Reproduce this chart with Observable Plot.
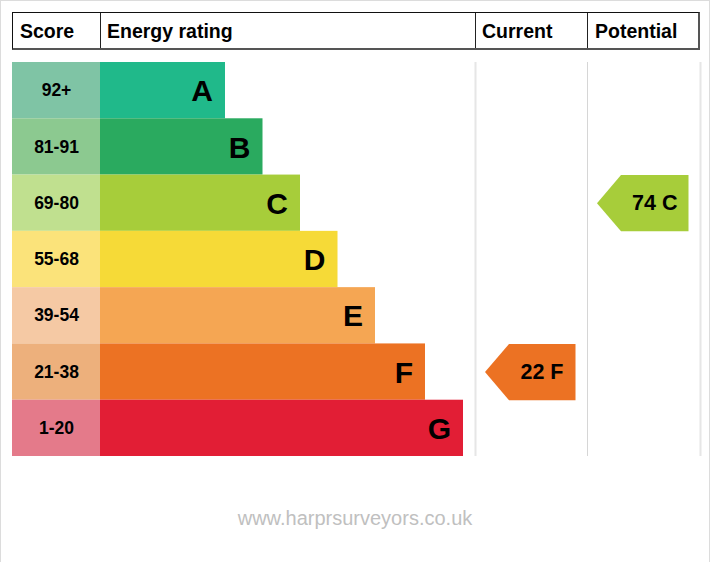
<!DOCTYPE html>
<html>
<head>
<meta charset="utf-8">
<script src="https://cdn.jsdelivr.net/npm/d3@7"></script>
<script src="https://cdn.jsdelivr.net/npm/@observablehq/plot@0.6"></script>
<style>
  html, body { margin: 0; padding: 0; background: #fff; }
  #wrap { position: relative; width: 710px; height: 562px; overflow: hidden;
          font-family: "Liberation Sans", Arial, sans-serif; background: #fff; }
  #frame { position: absolute; left: 0; top: 0; width: 710px; height: 562px; box-sizing: border-box;
           border-left: 1px solid #dcdcdc; border-top: 1px solid #dcdcdc; border-right: 1px solid #dcdcdc;
           pointer-events: none; }
  #chart { position: absolute; left: 0; top: 0; }
  #hdr { position: absolute; left: 12px; top: 12px; width: 688px; height: 38px; box-sizing: border-box;
         border-top: 1px solid #111; border-left: 1px solid #111;
         border-right: 2px solid #555; border-bottom: 2px solid #555; display: flex; }
  .cell { box-sizing: border-box; height: 100%; font-weight: bold; font-size: 19.5px;
          line-height: 35px; padding-top: 1px; padding-left: 7px; color: #000; white-space: nowrap; }
  .c1 { width: 87px; }
  .c2 { width: 375px; border-left: 1px solid #222; padding-left: 6px; }
  .c3 { width: 112px; border-left: 1px solid #222; padding-left: 6px; }
  .c4 { width: 111px; border-left: 1px solid #222; padding-left: 7px; }
  #footer { position: absolute; left: 0; top: 507px; width: 710px; text-align: center;
            font-size: 20px; line-height: 23px; color: #c0c0c0; }
</style>
</head>
<body>
<div id="wrap">
  <div id="chart"></div>
  <div id="hdr"></div>
  <div id="footer"></div>
  <div id="frame"></div>
</div>
<script>
// ---- data ----
const headers = ["Score", "Energy rating", "Current", "Potential"];
const ratings = ["A", "B", "C", "D", "E", "F", "G"];
const scoreRanges = ["92+", "81-91", "69-80", "55-68", "39-54", "21-38", "1-20"];
const barLengths = [125, 162.5, 200, 237.5, 275, 325, 363];
const currentScore = 22;
const currentRating = "F";
const potentialScore = 74;
const potentialRating = "C";
const footerText = "www.harprsurveyors.co.uk";

// ---- styles ----
const barColors = ["#20b98a", "#2aaa5f", "#a7cd3a", "#f6da37", "#f5a653", "#ec7223", "#e21e35"];
const scoreColors = ["#7fc4a5", "#8cc990", "#c0e08f", "#fbe37a", "#f5c9a4", "#edb07c", "#e47a8a"];

// ---- layout ----
const SCORE_X = [12, 100];
const BAR_X0 = 100;
const CUR_X = [475, 587];
const POT_X = [587, 700];

// header
const hdr = document.getElementById("hdr");
headers.forEach((h, i) => {
  const c = document.createElement("div");
  c.className = "cell c" + (i + 1);
  c.textContent = h;
  hdr.appendChild(c);
});
document.getElementById("footer").textContent = footerText;

const rows = ratings.map((r, i) => ({rating: r, range: scoreRanges[i], len: barLengths[i], i}));

function arrowPoints(col, rating) {
  const i = ratings.indexOf(rating);
  const tip = col[0] + 9.5, notch = col[0] + 33.5, right = col[1] - 12;
  return [
    {x: tip, y: i + 0.5}, {x: notch, y: i}, {x: right, y: i},
    {x: right, y: i + 1}, {x: notch, y: i + 1}, {x: tip, y: i + 0.5}
  ];
}
const curIdx = ratings.indexOf(currentRating);
const potIdx = ratings.indexOf(potentialRating);

const chart = Plot.plot({
  width: 710,
  height: 470,
  marginLeft: 0,
  marginRight: 0,
  marginTop: 62,
  marginBottom: 14,
  x: {domain: [0, 710], axis: null},
  y: {domain: [0, 7], reverse: true, axis: null},
  color: {type: "identity"},
  style: {fontFamily: "'Liberation Sans', Arial, sans-serif", color: "#000", background: "transparent", overflow: "visible"},
  marks: [
    Plot.ruleX([CUR_X[0]], {y1: 0, y2: 7, stroke: "#e6e6e6", strokeWidth: 2}),
    Plot.ruleX([POT_X[0]], {y1: 0, y2: 7, stroke: "#d6d6d6", strokeWidth: 1}),
    Plot.ruleX([POT_X[1]], {y1: 0, y2: 7, stroke: "#e6e6e6", strokeWidth: 2}),
    Plot.rect(rows, {x1: () => SCORE_X[0], x2: () => SCORE_X[1], y1: d => d.i, y2: d => d.i + 1,
                     fill: d => scoreColors[d.i]}),
    Plot.rect(rows, {x1: () => BAR_X0, x2: d => BAR_X0 + d.len, y1: d => d.i, y2: d => d.i + 1,
                     fill: d => barColors[d.i]}),
    Plot.text(rows, {x: () => (SCORE_X[0] + SCORE_X[1]) / 2, y: d => d.i + 0.5, text: "range",
                     fontSize: 17.5, fontWeight: "bold", fill: "#000"}),
    Plot.text(rows, {x: d => BAR_X0 + d.len - 12.5, y: d => d.i + 0.5, text: "rating",
                     textAnchor: "end", fontSize: 30, fontWeight: "bold", fill: "#000", dy: 1}),
    Plot.line(arrowPoints(CUR_X, currentRating), {x: "x", y: "y", fill: barColors[curIdx], stroke: "none"}),
    Plot.line(arrowPoints(POT_X, potentialRating), {x: "x", y: "y", fill: barColors[potIdx], stroke: "none"}),
    Plot.text([{s: currentScore, r: currentRating}], {x: () => CUR_X[1] - 24, y: () => curIdx + 0.5,
              text: d => `${d.s} ${d.r}`, textAnchor: "end", fontSize: 21.5, fontWeight: "bold", fill: "#000"}),
    Plot.text([{s: potentialScore, r: potentialRating}], {x: () => POT_X[1] - 23, y: () => potIdx + 0.5,
              text: d => `${d.s} ${d.r}`, textAnchor: "end", fontSize: 21.5, fontWeight: "bold", fill: "#000"})
  ]
});
document.getElementById("chart").appendChild(chart);
</script>
</body>
</html>
